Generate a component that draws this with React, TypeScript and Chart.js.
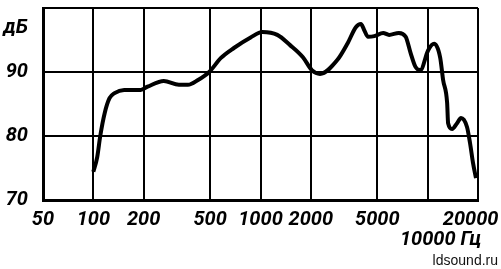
import React, { useEffect, useRef } from "react";
import { Chart, registerables } from "chart.js";

Chart.register(...registerables);

const FREQS = [100, 105.5, 110, 117, 125, 134, 153, 192, 211, 264, 325, 368, 423, 493, 580, 693, 873, 1027, 1260, 1503, 1794, 2028, 2270, 2886, 3322, 3718, 3990, 4162, 4400, 4797, 5420, 5876, 6720, 7385, 7900, 8454, 9040, 10070, 10930, 11870, 12370, 13070, 13250, 13990, 14990, 15830, 17190, 17920, 18670, 19460];
const LEVELS = [74.4, 76.7, 80.0, 83.6, 85.9, 86.7, 87.2, 87.2, 87.7, 88.6, 88.0, 88.0, 88.75, 90.0, 92.2, 93.75, 95.4, 96.25, 95.8, 94.2, 92.3, 90.3, 89.7, 91.9, 94.5, 97.0, 97.5, 96.6, 95.5, 95.6, 96.1, 95.8, 96.1, 95.5, 93.0, 90.8, 90.3, 93.4, 94.4, 92.3, 88.75, 85.2, 82.0, 81.1, 82.0, 82.8, 81.4, 78.9, 75.8, 73.4];

const X_TICKS = [50, 100, 200, 500, 1000, 2000, 5000, 10000, 20000];
const X_LABELS = ["50", "100", "200", "500", "1000", "2000", "5000", "", "20000"];
const UNIT_TICK = 10000;
const UNIT_LABEL = "10000 Гц";
const Y_TICKS = [70, 80, 90, 100];
const Y_LABELS = ["70", "80", "90", "дБ"];
const WATERMARK = "ldsound.ru";

const FONT_FAMILY = "Roboto, 'Noto Sans', 'DejaVu Sans', sans-serif";
const FONT_SIZE = 20;

export default function App() {
  const ref = useRef<HTMLCanvasElement | null>(null);

  useEffect(() => {
    if (!ref.current) return;
    const textPlugin = {
      id: "extraText",
      afterDraw(chart: any) {
        const ctx = chart.ctx;
        const xs = chart.scales.x;
        ctx.save();
        ctx.fillStyle = "#000";
        ctx.font = `italic bold ${FONT_SIZE}px ${FONT_FAMILY}`;
        ctx.textAlign = "center";
        ctx.textBaseline = "middle";
        ctx.fillText(UNIT_LABEL, xs.getPixelForValue(UNIT_TICK) + 13, 240);
        ctx.font = "14px 'Liberation Sans', Arial, sans-serif";
        ctx.textAlign = "right";
        ctx.fillStyle = "#111";
        ctx.fillText(WATERMARK, 498, 261);
        ctx.restore();
      },
    };

    const chart = new Chart(ref.current, {
      type: "line",
      data: {
        datasets: [
          {
            data: FREQS.map((f, i) => ({ x: f, y: LEVELS[i] })),
            borderColor: "#000",
            borderWidth: 4,
            pointRadius: 0,
            cubicInterpolationMode: "monotone",
            fill: false,
          },
        ],
      },
      options: {
        animation: false,
        responsive: false,
        devicePixelRatio: 1,
        layout: { padding: { left: 0, top: 8, right: 23, bottom: 0 } },
        plugins: { legend: { display: false }, tooltip: { enabled: false } },
        scales: {
          x: {
            type: "logarithmic",
            min: 50,
            max: 20000,
            afterBuildTicks(scale: any) {
              scale.ticks = X_TICKS.map((v) => ({ value: v }));
            },
            afterFit(scale: any) {
              scale.height = 69;
              scale.paddingLeft = 0;
              scale.paddingRight = 0;
            },
            grid: { color: "#000", lineWidth: 2, drawTicks: false },
            border: { display: true, color: "#000", width: 3 },
            ticks: {
              autoSkip: false,
              maxRotation: 0,
              padding: 8,
              color: "#000",
              font: { family: FONT_FAMILY, size: FONT_SIZE, style: "italic", weight: "bold" },
              callback(value: any) {
                const i = X_TICKS.indexOf(Number(value));
                const label = i >= 0 ? X_LABELS[i] : "";
                return Number(value) === 20000 ? label + "\u00a0\u00a0\u00a0" : label;
              },
            },
          },
          y: {
            type: "linear",
            min: 70,
            max: 100,
            afterBuildTicks(scale: any) {
              scale.ticks = Y_TICKS.map((v) => ({ value: v }));
            },
            afterFit(scale: any) {
              scale.width = 43;
              scale.paddingTop = 0;
              scale.paddingBottom = 0;
            },
            grid: { color: "#000", lineWidth: 2, drawTicks: false },
            border: { display: true, color: "#000", width: 3 },
            ticks: {
              autoSkip: false,
              padding: 15,
              color: "#000",
              font: { family: FONT_FAMILY, size: FONT_SIZE, style: "italic", weight: "bold", lineHeight: 2.0 },
              callback(value: any) {
                const i = Y_TICKS.indexOf(Number(value));
                const label = i >= 0 ? Y_LABELS[i] : "";
                return Number(value) === 100 ? ["", label] : label;
              },
            },
          },
        },
      },
      plugins: [textPlugin],
    });
    return () => chart.destroy();
  }, []);

  return (
    <div style={{ position: "absolute", left: 0, top: 0, width: 501, height: 269, background: "#fff" }}>
      <canvas ref={ref} width={501} height={269} />
    </div>
  );
}
